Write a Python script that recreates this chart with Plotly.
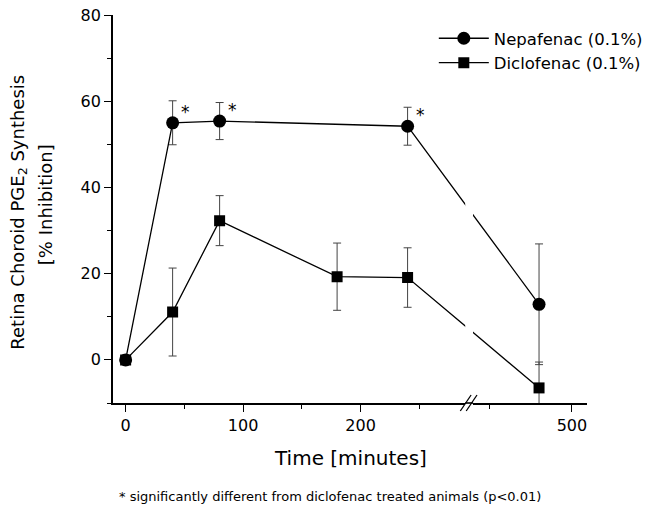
import plotly.graph_objects as go

# ---------------- data ----------------
time_nep = [0, 40, 80, 240, 480]
nepafenac = [0.0, 55.0, 55.4, 54.2, 12.9]
nepafenac_err = [0.8, 5.1, 4.3, 4.4, 14.0]

time_dic = [0, 40, 80, 180, 240, 480]
diclofenac = [0.0, 11.1, 32.3, 19.3, 19.1, -6.5]
diclofenac_err = [0.8, 10.2, 5.8, 7.8, 6.9, 6.0]

signif_times = [40, 80, 240]   # Nepafenac points marked with *

x_ticks_left = [0, 100, 200]
x_ticks_right = [500]
y_ticks = [0, 20, 40, 60, 80]

# ---------------- layout (pixels) ----------------
W, H = 648, 507
TOP, BOTTOM = 15, 403                 # plot area rows
X1_PX, X1_RANGE = (115, 474), (-10.86, 289.06)   # left part of broken axis
X2_PX, X2_RANGE = (482, 598), (439.85, 509.14)   # right part after the break

def px(x):
    return x / W
def py(y):
    return (BOTTOM - y) / (BOTTOM - TOP)

def screen_x(t):
    """pixel column of a time value on the broken axis"""
    if t <= X1_RANGE[1]:
        r, p = X1_RANGE, X1_PX
    else:
        r, p = X2_RANGE, X2_PX
    return p[0] + (t - r[0]) * (p[1] - p[0]) / (r[1] - r[0])

def on_axis(t, r, p):
    """express a time value in the coordinates of one axis segment so that
    segments crossing the break stay straight on screen"""
    s = screen_x(t)
    return r[0] + (s - p[0]) * (r[1] - r[0]) / (p[1] - p[0])

FONT = "DejaVu Sans, Arial, sans-serif"
BLACK = "#000000"
ERRC = "#444444"

fig = go.Figure()

series = [
    ("Nepafenac (0.1%)", time_nep, nepafenac, nepafenac_err, "circle", 13),
    ("Diclofenac (0.1%)", time_dic, diclofenac, diclofenac_err, "square", 11),
]
for name, xs, ys, es, sym, size in series:
    for axis, r, p, show in (("x", X1_RANGE, X1_PX, True),
                             ("x2", X2_RANGE, X2_PX, False)):
        fig.add_trace(go.Scatter(
            x=[on_axis(t, r, p) for t in xs], y=ys, name=name,
            xaxis=axis, yaxis="y",
            mode="lines+markers", showlegend=show, legendgroup=name,
            line=dict(color=BLACK, width=1.3),
            marker=dict(symbol=sym, size=size, color=BLACK),
            error_y=dict(type="data", array=es, visible=True,
                         color=ERRC, thickness=1, width=4),
            cliponaxis=True,
        ))

# significance asterisks
for t in signif_times:
    v = nepafenac[time_nep.index(t)]
    fig.add_annotation(x=t, y=v, xref="x", yref="y", text="*",
                       showarrow=False, xshift=13, yshift=11,
                       font=dict(family=FONT, size=17, color=BLACK))

axis_common = dict(
    showline=True, linecolor=BLACK, linewidth=1.6, mirror=False,
    ticks="outside", ticklen=7, tickwidth=1.3, tickcolor=BLACK,
    showgrid=False, zeroline=False,
    tickfont=dict(family=FONT, size=16, color=BLACK),
)

fig.update_layout(
    width=W, height=H,
    margin=dict(l=0, r=0, t=TOP, b=H - BOTTOM, pad=0),
    paper_bgcolor="white", plot_bgcolor="white",
    font=dict(family=FONT, color=BLACK),
    xaxis=dict(domain=[px(X1_PX[0]), px(X1_PX[1])], range=list(X1_RANGE),
               tickvals=x_ticks_left, anchor="y",
               minor=dict(dtick=50, ticks="outside", ticklen=4,
                          tickcolor=BLACK, tickwidth=1.2),
               **axis_common),
    xaxis2=dict(domain=[px(X2_PX[0]), px(X2_PX[1])], range=list(X2_RANGE),
                tickvals=x_ticks_right, anchor="y",
                minor=dict(tickvals=[450], ticks="outside", ticklen=4,
                           tickcolor=BLACK, tickwidth=1.2),
                **axis_common),
    yaxis=dict(domain=[0, 1], range=[-10, 80], tickvals=y_ticks, anchor="x",
               minor=dict(dtick=10, ticks="outside", ticklen=4,
                          tickcolor=BLACK, tickwidth=1.2),
               **axis_common),
    legend=dict(x=px(442), y=py(21), xanchor="left", yanchor="top",
                bgcolor="rgba(0,0,0,0)", borderwidth=0,
                font=dict(family=FONT, size=16.5, color=BLACK),
                itemwidth=50, tracegroupgap=0),
    showlegend=True,
)

# axis titles and footnote
fig.add_annotation(xref="paper", yref="paper", x=px(357), y=py(458),
                   text="Time [minutes]", showarrow=False,
                   xanchor="center", yanchor="middle",
                   font=dict(family=FONT, size=20, color=BLACK))
fig.add_annotation(xref="paper", yref="paper", x=px(19), y=py(212),
                   text="Retina Choroid PGE<sub>2</sub> Synthesis",
                   textangle=-90, showarrow=False,
                   xanchor="center", yanchor="middle",
                   font=dict(family=FONT, size=18, color=BLACK))
fig.add_annotation(xref="paper", yref="paper", x=px(46), y=py(205),
                   text="[% Inhibition]", textangle=-90, showarrow=False,
                   xanchor="center", yanchor="middle",
                   font=dict(family=FONT, size=18, color=BLACK))
fig.add_annotation(xref="paper", yref="paper", x=px(336), y=py(496),
                   text="* significantly different from diclofenac treated animals (p<0.01)",
                   showarrow=False, xanchor="center", yanchor="middle",
                   font=dict(family=FONT, size=13, color=BLACK))

# continuous axis line through the break, and the // break marks
fig.add_shape(type="line", xref="paper", yref="paper",
              x0=px(X1_PX[1]), x1=px(X2_PX[0]), y0=0, y1=0,
              line=dict(color=BLACK, width=1.6))
for dx in (0, 6):
    fig.add_shape(type="line", xref="paper", yref="paper",
                  x0=px(469 + dx), y0=py(411), x1=px(480 + dx), y1=py(395),
                  line=dict(color=BLACK, width=1.3))

fig.write_html("out.html")
